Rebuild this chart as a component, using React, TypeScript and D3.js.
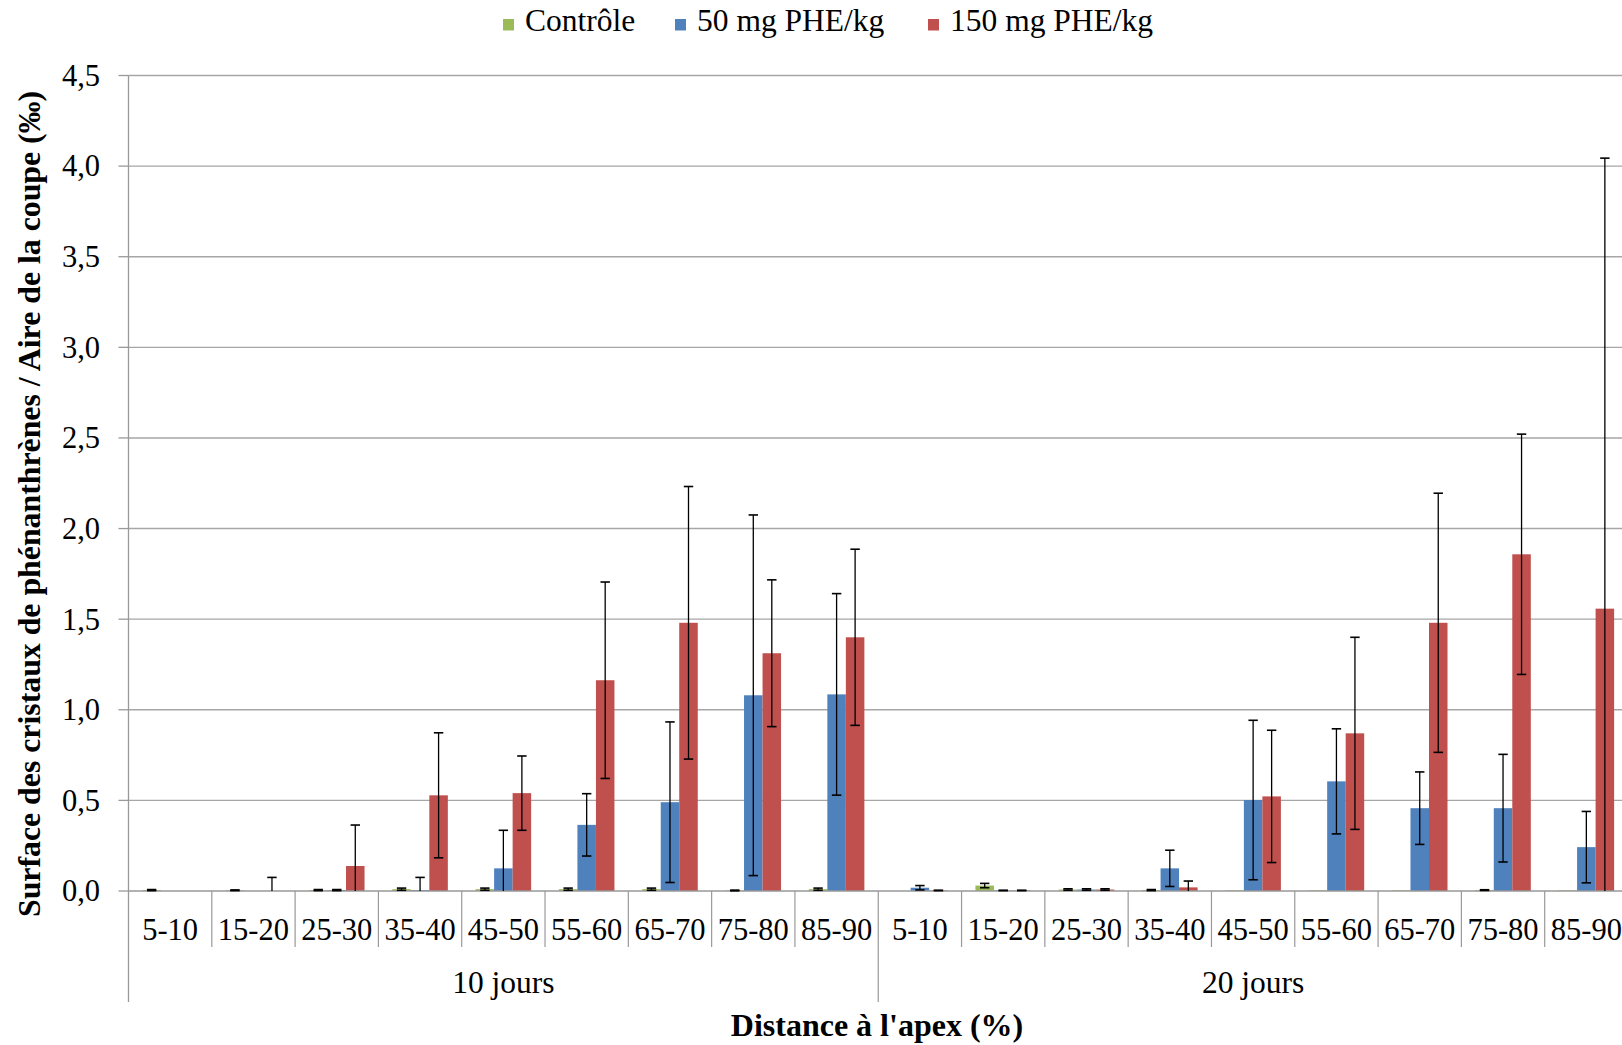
import React from "react";
import * as d3 from "d3";

const groups = ["10 jours", "20 jours"];
const ranges = ["5-10", "15-20", "25-30", "35-40", "45-50", "55-60", "65-70", "75-80", "85-90"];
const series = ["Contrôle", "50 mg PHE/kg", "150 mg PHE/kg"];
const colors = ["#9BBB59", "#4F81BD", "#C0504D"];
const yTicks = [0, 0.5, 1, 1.5, 2, 2.5, 3, 3.5, 4, 4.5];

const control10 = [0.005, 0.004, 0.005, 0.01, 0.01, 0.01, 0.01, 0.003, 0.01];
const control10Err = [0.003, 0.002, 0.003, 0.006, 0.006, 0.006, 0.006, 0.002, 0.006];
const blue10 = [0, 0, 0.005, 0.005, 0.125, 0.365, 0.49, 1.08, 1.085];
const blue10Err = [0, 0, 0.003, 0.07, 0.21, 0.172, 0.443, 0.995, 0.556];
const red10 = [0, 0, 0.138, 0.528, 0.54, 1.163, 1.48, 1.312, 1.4];
const red10Err = [0, 0.075, 0.226, 0.345, 0.205, 0.542, 0.752, 0.405, 0.486];

const control20 = [0, 0.03, 0.008, 0.005, 0.003, 0.003, 0.003, 0.005, 0.003];
const control20Err = [0, 0.012, 0.004, 0.003, 0, 0, 0, 0.002, 0];
const blue20 = [0.018, 0.003, 0.008, 0.125, 0.502, 0.605, 0.457, 0.457, 0.242];
const blue20Err = [0.012, 0.001, 0.004, 0.1, 0.44, 0.29, 0.2, 0.297, 0.197];
const red20 = [0.003, 0.003, 0.008, 0.02, 0.522, 0.87, 1.48, 1.858, 1.558];
const red20Err = [0.001, 0.001, 0.004, 0.035, 0.365, 0.53, 0.715, 0.663, 2.486];

const W = 1622;
const H = 1045;
const FONT = "'Liberation Serif', 'Times New Roman', serif";

export default function App() {
  const left = 128.5;
  const plotRight = 1628;
  const y0 = 891;
  const yTop = 75.5;

  const cats = groups.flatMap((g) => ranges.map((r) => `${g}|${r}`));
  const x = d3.scaleBand<string>().domain(cats).range([left, plotRight]).paddingInner(0).paddingOuter(0);
  const xs = d3.scaleBand<string>().domain(series).range([0, x.bandwidth()]).paddingInner(0).paddingOuter(0.75);
  const y = d3.scaleLinear().domain([0, 4.5]).range([y0, yTop]);
  const gx = d3.scaleBand<string>().domain(groups).range([left, plotRight]);

  const vals = [
    [control10, blue10, red10],
    [control20, blue20, red20],
  ];
  const errs = [
    [control10Err, blue10Err, red10Err],
    [control20Err, blue20Err, red20Err],
  ];

  const bars: any[] = [];
  groups.forEach((g, gi) => {
    ranges.forEach((r, ri) => {
      series.forEach((s, si) => {
        const v = vals[gi][si][ri];
        const e = errs[gi][si][ri];
        bars.push({ key: `${g}|${r}`, s, si, v, e });
      });
    });
  });

  const legendTextX = [525, 697, 950];

  return (
    <svg
      width={W}
      height={H}
      style={{ position: "absolute", left: 0, top: 0, background: "#fff", overflow: "hidden" }}
      fontFamily={FONT}
    >
      <rect x={0} y={0} width={W} height={H} fill="#fff" />
      {/* legend */}
      {series.map((s, i) => (
        <g key={s}>
          <rect x={legendTextX[i] - 22} y={19} width={11} height={11.5} fill={colors[i]} />
          <text x={legendTextX[i]} y={31} fontSize={31.5} fill="#000">
            {s}
          </text>
        </g>
      ))}
      {/* gridlines */}
      {yTicks.map((t) =>
        t === 0 ? null : (
          <line key={t} x1={left} x2={W} y1={y(t)} y2={y(t)} stroke="#a6a6a6" strokeWidth={1.4} />
        )
      )}
      {/* y ticks and labels */}
      {yTicks.map((t) => (
        <g key={"t" + t}>
          <line x1={118.5} x2={left} y1={y(t)} y2={y(t)} stroke="#999" strokeWidth={1.3} />
          <text x={100} y={y(t)} dy="0.34em" textAnchor="end" fontSize={30.5} fill="#000">
            {d3.format(".1f")(t).replace(".", ",")}
          </text>
        </g>
      ))}
      {/* bars */}
      {bars.map((b, i) =>
        b.v > 0 ? (
          <rect
            key={"b" + i}
            x={(x(b.key) as number) + (xs(b.s) as number)}
            y={y(b.v)}
            width={xs.bandwidth()}
            height={y0 - y(b.v)}
            fill={colors[b.si]}
          />
        ) : null
      )}
      {/* axes lines */}
      <line x1={left} x2={W} y1={y0} y2={y0} stroke="#999" strokeWidth={1.4} />
      <line x1={left} x2={left} y1={yTop} y2={1002} stroke="#999" strokeWidth={1.3} />
      {cats.map((c, i) => {
        if (i === 0) return null;
        const xx = x(c) as number;
        const isGroup = i % ranges.length === 0;
        return (
          <line key={"s" + c} x1={xx} x2={xx} y1={y0} y2={isGroup ? 1002 : 947} stroke="#999" strokeWidth={1.2} />
        );
      })}
      {/* error bars */}
      {bars.map((b, i) => {
        if (b.e <= 0) return null;
        const cx = (x(b.key) as number) + (xs(b.s) as number) + xs.bandwidth() / 2;
        const hi = b.v + b.e;
        const lo = b.v - b.e;
        const yHi = y(hi);
        const yLo = lo > 0 ? y(lo) : y0;
        const cw = 4.7;
        return (
          <g key={"e" + i} stroke="#000" strokeWidth={1.3}>
            <line x1={cx} x2={cx} y1={yHi} y2={yLo} />
            <line x1={cx - cw} x2={cx + cw} y1={yHi} y2={yHi} strokeWidth={1.6} />
            {lo > 0 ? <line x1={cx - cw} x2={cx + cw} y1={yLo} y2={yLo} strokeWidth={1.6} /> : null}
          </g>
        );
      })}
      {/* category labels */}
      {cats.map((c) => (
        <text
          key={"l" + c}
          x={(x(c) as number) + x.bandwidth() / 2}
          y={940}
          textAnchor="middle"
          fontSize={30.5}
          fill="#000"
        >
          {c.split("|")[1]}
        </text>
      ))}
      {/* group labels */}
      {groups.map((g) => (
        <text key={"g" + g} x={(gx(g) as number) + gx.bandwidth() / 2} y={993} textAnchor="middle" fontSize={31.5} fill="#000">
          {g}
        </text>
      ))}
      {/* axis titles */}
      <text x={877} y={1036} textAnchor="middle" fontSize={32} fontWeight="bold" fill="#000">
        Distance à l'apex (%)
      </text>
      <text
        transform={`translate(40, 504) rotate(-90)`}
        textAnchor="middle"
        fontSize={31.8}
        fontWeight="bold"
        fill="#000"
      >
        Surface des cristaux de phénanthrènes / Aire de la coupe (‰)
      </text>
    </svg>
  );
}
